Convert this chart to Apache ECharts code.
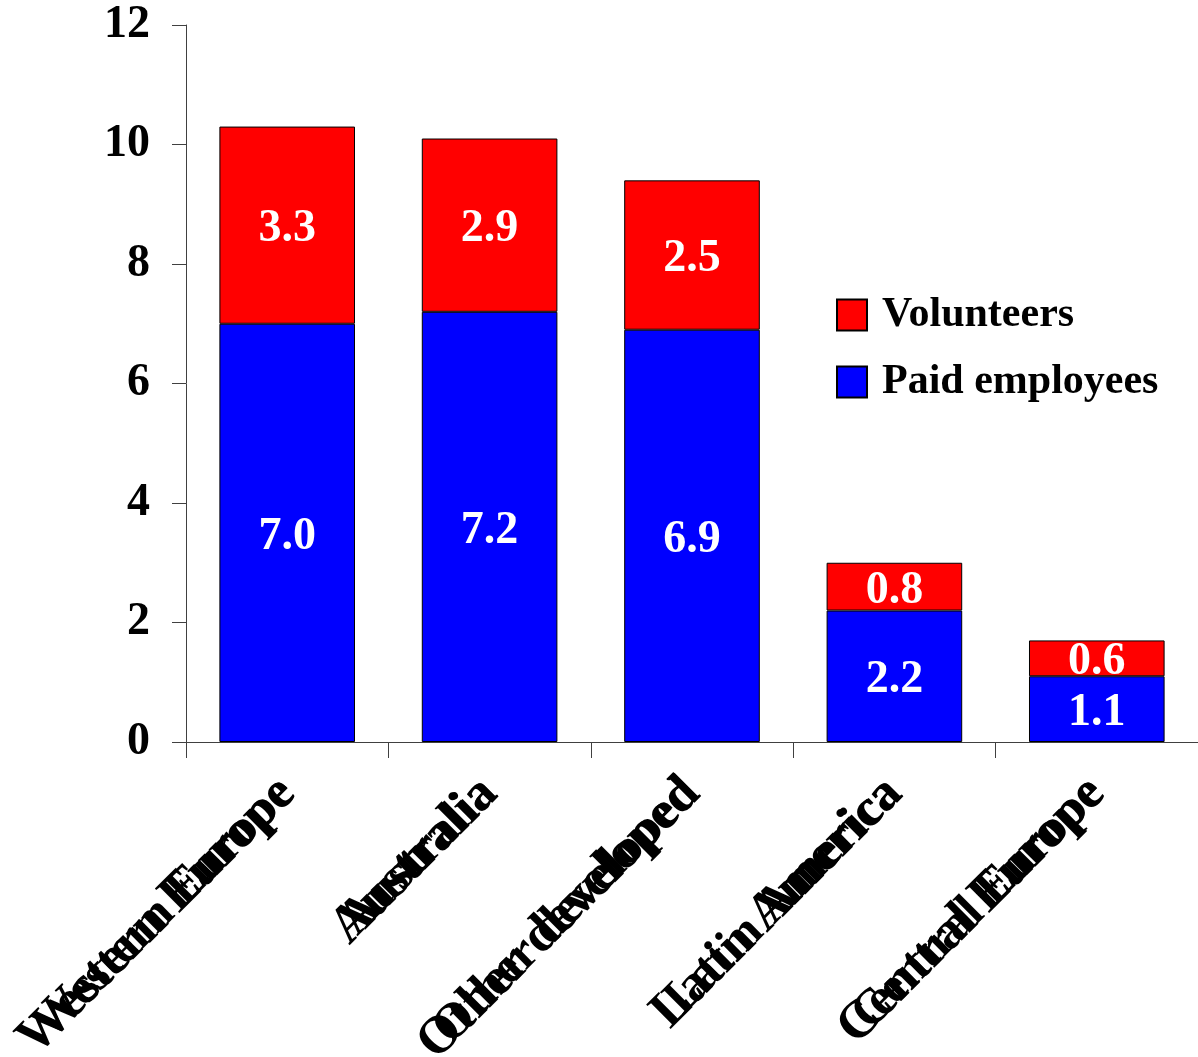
<!DOCTYPE html>
<html>
<head>
<meta charset="utf-8">
<script src="https://cdn.jsdelivr.net/npm/echarts@6/dist/echarts.min.js"></script>
<style>
  html, body { margin: 0; padding: 0; background: #fff; }
  #chart { width: 1198px; height: 1057px; }
</style>
</head>
<body>
<div id="chart"></div>
<script>
const categories = ['Western Europe', 'Australia', 'Other developed', 'Latin America', 'Central Europe'];
const paidEmployees = [7.0, 7.2, 6.9, 2.2, 1.1];
const volunteers = [3.3, 2.9, 2.5, 0.8, 0.6];
const yTicks = { min: 0, max: 12, interval: 2 };

const serif = "'Liberation Serif', 'Times New Roman', serif";
const axisColor = '#404040';

const chart = echarts.init(document.getElementById('chart'));

const barLabel = {
  show: true,
  position: 'inside',
  offset: [0, 4],
  color: '#fff',
  fontFamily: serif,
  fontWeight: 'bold',
  fontSize: 46,
  formatter: p => p.value.toFixed(1)
};

// category labels are drawn twice, at two sizes, sharing one anchor
const categoryLabel = size => ({
  rotate: 45,
  margin: 44,
  interval: 0,
  color: '#000',
  fontFamily: serif,
  fontWeight: 'bold',
  fontSize: size
});

chart.setOption({
  animation: false,
  backgroundColor: '#fff',
  grid: { left: 186, right: 0, top: 25, bottom: 315, containLabel: false, outerBoundsMode: 'none' },
  legend: {
    orient: 'vertical',
    left: 831,
    top: 289,
    itemWidth: 30,
    itemHeight: 31,
    itemGap: 25,
    icon: 'rect',
    data: ['Volunteers', 'Paid employees'],
    textStyle: {
      fontFamily: serif,
      fontWeight: 'bold',
      fontSize: 42,
      lineHeight: 42,
      color: '#000',
      padding: [0, 0, 0, 10]
    }
  },
  xAxis: [
    {
      type: 'category',
      data: categories,
      position: 'bottom',
      axisLine: { show: true, lineStyle: { color: axisColor, width: 1 } },
      axisTick: { show: true, length: 16, lineStyle: { color: axisColor } },
      axisLabel: categoryLabel(53)
    },
    {
      type: 'category',
      data: categories,
      position: 'bottom',
      axisLine: { show: false },
      axisTick: { show: false },
      axisLabel: categoryLabel(50)
    }
  ],
  yAxis: {
    type: 'value',
    min: yTicks.min,
    max: yTicks.max,
    interval: yTicks.interval,
    axisLine: { show: true, lineStyle: { color: axisColor, width: 1 } },
    axisTick: { show: true, length: 14, lineStyle: { color: axisColor } },
    splitLine: { show: false },
    axisLabel: {
      margin: 36,
      padding: [9, 0, 0, 0],
      color: '#000',
      fontFamily: serif,
      fontWeight: 'bold',
      fontSize: 46
    }
  },
  series: [
    {
      name: 'Paid employees',
      type: 'bar',
      stack: 'total',
      xAxisIndex: 0,
      barCategoryGap: '33%',
      data: paidEmployees,
      itemStyle: { color: '#0000FF', borderColor: '#000', borderWidth: 1 },
      label: barLabel
    },
    {
      name: 'Volunteers',
      type: 'bar',
      stack: 'total',
      xAxisIndex: 0,
      barCategoryGap: '33%',
      data: volunteers,
      itemStyle: { color: '#FF0000', borderColor: '#000', borderWidth: 1 },
      label: barLabel
    }
  ]
});
</script>
</body>
</html>
